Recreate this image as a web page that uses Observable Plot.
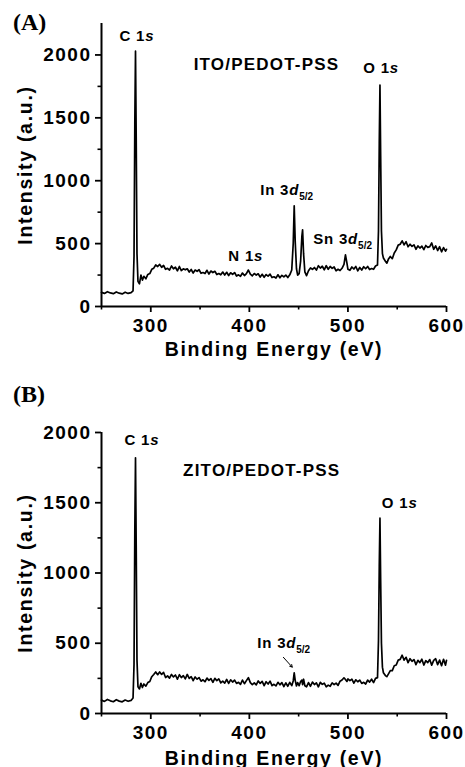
<!DOCTYPE html>
<html>
<head>
<meta charset="utf-8">
<script src="https://cdn.jsdelivr.net/npm/d3@7"></script>
<script src="https://cdn.jsdelivr.net/npm/@observablehq/plot@0.6"></script>
<style>
  html, body { margin: 0; padding: 0; background: #fff; }
  #fig { position: relative; width: 465px; height: 767px; overflow: hidden; background: #fff; }
  .panel-label { position: absolute; font-family: "Liberation Serif", "Times New Roman", serif; font-weight: bold; font-size: 24px; line-height: 24px; color: #000; }
  .plot { position: absolute; left: 0; }
</style>
</head>
<body>
<div id="fig">
  <div class="panel-label" style="left:13px; top:10px;">(A)</div>
  <div class="panel-label" style="left:13px; top:382px;">(B)</div>
  <div class="plot" id="top" style="top:0px;"></div>
  <div class="plot" id="bottom" style="top:380px;"></div>
</div>
<script>
// ---------- data ----------
const energyEV = [
  250,253,256,259,262,265,268,271,274,277,280,
  282,283,283.8,284.5,285.2,286,287,288.5,290,291.5,293,295,297,299,301,303,305,
  307,309,311,313,315,317,319,321,323,325,327,329,331,333,335,337,339,341,
  343,345,347,349,351,353,355,357,359,361,363,365,367,369,371,373,375,377,
  379,381,383,385,387,389,391,393,395,397,399,401,403,405,407,409,411,413,
  415,417,419,421,423,425,427,429,431,433,435,437,439,441,
  443,444.5,445.5,446.5,447.8,449,450.5,452,453.3,454,455,456.3,458,
  460,462,464,466,468,470,472,474,476,478,480,482,484,486,488,490,492,494,
  496,497.5,499,500,502,504,506,508,510,512,514,516,518,520,522,524,526,528,
  530,531,531.8,532.5,533.2,534,535,536,538,539.5,
  541,543,545,547,549,551,553,555,557,559,561,563,565,567,569,571,573,575,
  577,579,581,583,585,587,589,591,593,595,597,599,600
];
const itoIntensity = [
  112,104,118,108,102,116,106,100,114,104,110,
  125,400,1450,2030,1350,420,200,180,250,210,240,220,255,262,296,305,330,
  318,335,312,326,296,304,290,322,300,312,284,318,286,300,292,300,274,294,
  266,290,280,292,264,270,262,288,258,282,270,280,254,262,252,274,250,272,
  246,268,256,270,242,252,240,266,246,262,290,258,244,262,250,260,234,256,
  232,254,242,258,230,236,226,252,228,248,236,250,230,252,
  290,500,800,520,300,250,262,360,560,610,420,275,245,
  284,306,296,310,290,324,306,320,292,324,296,318,304,314,284,296,286,304,
  335,410,345,296,288,314,298,318,284,310,290,316,300,318,294,302,296,322,
  330,600,1300,1760,1200,600,420,385,360,345,
  375,398,380,425,450,488,495,522,490,515,475,495,478,490,455,482,465,480,
  452,485,470,476,505,455,482,445,475,435,468,440,455
];
const zitoIntensity = [
  95,86,100,90,84,98,88,83,96,87,93,
  110,350,1300,1820,1200,380,190,175,215,185,210,195,220,228,262,278,296,
  276,296,278,292,256,268,252,278,260,274,244,276,256,270,246,278,250,262,
  234,260,244,256,230,240,226,252,236,248,222,250,234,246,218,230,216,242,
  214,240,224,238,214,222,208,238,212,234,255,220,206,218,204,232,214,228,
  198,226,210,230,198,208,196,222,204,220,192,218,194,222,
  198,232,290,236,196,220,198,228,238,205,244,198,190,
  220,194,224,206,218,190,222,208,216,190,202,194,218,206,216,200,230,238,
  254,242,228,246,234,244,216,240,226,238,214,222,210,238,224,244,220,250,
  255,520,1050,1390,950,500,330,290,270,262,
  280,305,305,340,345,380,385,415,380,400,362,390,372,384,348,378,362,386,
  345,376,362,384,344,378,390,348,380,340,386,344,378
];

// axis ticks
const xMajorTicks = [300, 400, 500, 600];
const xMinorTicks = [250, 350, 450, 550];
const yMajorTicks = [0, 500, 1000, 1500, 2000];
const yMinorTicks = [250, 750, 1250, 1750];

// peak labels ({..} = italic, _.. = subscript)
const topPeakText = ["C 1{s}", "O 1{s}", "In 3{d}_5/2", "N 1{s}", "Sn 3{d}_5/2"];
const topPeakEV = [268.2, 515.5, 411, 378.7, 464.8];
const topPeakY = [2153, 1898, 925, 399, 534];
const topSample = ["ITO/PEDOT-PSS"];
const topSampleEV = [343.5];
const topSampleY = [1922];

const bottomPeakText = ["C 1{s}", "O 1{s}", "In 3{d}_5/2"];
const bottomPeakEV = [273.3, 534.4, 408];
const bottomPeakY = [1942, 1500, 498];
const bottomSample = ["ZITO/PEDOT-PSS"];
const bottomSampleEV = [332.8];
const bottomSampleY = [1728];
const bottomArrowFrom = [434.5, 400];
const bottomArrowTo = [443.5, 330];

// ---------- drawing ----------
const FONT = "'Liberation Sans', Arial, Helvetica, sans-serif";
const fmt = d3.format("d");

function makePanel(intensity, yMax, marginTop, marginBottom, height, xLabelOffset, peaks, sample, arrow) {
  const n = Math.min(energyEV.length, intensity.length);
  const data = [];
  for (let i = 0; i < n; i++) data.push({e: energyEV[i], v: intensity[i]});
  const peakData = peaks.text.map((t, i) => ({t, e: peaks.ev[i], v: peaks.y[i]}));
  const sampleData = sample.text.map((t, i) => ({t, e: sample.ev[i], v: sample.y[i]}));
  const marks = [
    Plot.axisX(xMajorTicks, {tickSize: 6, tickPadding: 6, strokeWidth: 1.8, tickFormat: fmt, label: "Binding Energy (eV)", labelAnchor: "center", labelOffset: xLabelOffset, labelArrow: "none"}),
    Plot.axisX(xMinorTicks, {tickSize: 3.5, strokeWidth: 1.6, tickFormat: () => "", label: null}),
    Plot.axisY(yMajorTicks, {tickSize: 6, tickPadding: 4, strokeWidth: 1.8, tickFormat: fmt, label: "Intensity (a.u.)", labelAnchor: "center", labelOffset: 83, labelArrow: "none"}),
    Plot.axisY(yMinorTicks, {tickSize: 3.5, strokeWidth: 1.6, tickFormat: () => "", label: null}),
    Plot.ruleX([250], {strokeWidth: 2}),
    Plot.ruleY([0], {strokeWidth: 2}),
    Plot.line(data, {x: "e", y: "v", stroke: "black", strokeWidth: 1.7}),
    Plot.text(peakData, {x: "e", y: "v", text: "t", textAnchor: "start", lineAnchor: "middle", fontSize: 15, fill: "black"}),
    Plot.text(sampleData, {x: "e", y: "v", text: "t", textAnchor: "start", lineAnchor: "middle", fontSize: 17, fill: "black"})
  ];
  if (arrow) {
    marks.push(Plot.arrow([{x1: arrow[0][0], y1: arrow[0][1], x2: arrow[1][0], y2: arrow[1][1]}],
      {x1: "x1", y1: "y1", x2: "x2", y2: "y2", stroke: "black", strokeWidth: 1, headLength: 4, inset: 0}));
  }
  const svg = Plot.plot({
    width: 465,
    height,
    marginLeft: 101,
    marginRight: 19,
    marginTop,
    marginBottom,
    x: {domain: [250, 600], label: "Binding Energy (eV)", labelArrow: "none"},
    y: {domain: [0, yMax], label: "Intensity (a.u.)", labelArrow: "none"},
    style: {fontFamily: FONT, fontSize: "19px", fontWeight: "bold", color: "black", background: "transparent", overflow: "visible", letterSpacing: "1.5px"},
    marks
  });
  // rich text: italic and subscript; strip any label arrows
  svg.querySelectorAll("text").forEach(el => {
    const s0 = el.textContent;
    if (/[↑→]/.test(s0)) {
      el.textContent = s0.replace(/\s*[↑→]\s*/g, "");
    }
    const s = el.textContent;
    if (s === "Binding Energy (eV)" || s === "Intensity (a.u.)") {
      el.setAttribute("letter-spacing", "1.7px");
      el.setAttribute("font-size", "19.5px");
      return;
    }
    if (!/[{_]/.test(s)) return;
    const parts = [];
    const re = /\{([^}]*)\}|_(\S+)|([^{_]+)/g;
    let m;
    while ((m = re.exec(s))) {
      if (m[1] != null) parts.push({t: m[1], kind: "it"});
      else if (m[2] != null) parts.push({t: m[2], kind: "sub"});
      else parts.push({t: m[3], kind: "n"});
    }
    while (el.firstChild) el.removeChild(el.firstChild);
    el.setAttribute("letter-spacing", "0.8px");
    for (const p of parts) {
      const ts = document.createElementNS("http://www.w3.org/2000/svg", "tspan");
      ts.textContent = p.t;
      if (p.kind === "it") ts.setAttribute("font-style", "italic");
      if (p.kind === "sub") {
        ts.setAttribute("font-size", "10px");
        ts.setAttribute("dy", "5");
        ts.setAttribute("letter-spacing", "0px");
      }
      el.appendChild(ts);
    }
  });
  svg.querySelectorAll("text").forEach(el => {
    if (el.textContent === "ITO/PEDOT-PSS" || el.textContent === "ZITO/PEDOT-PSS") el.setAttribute("letter-spacing", "1.2px");
  });
  return svg;
}

document.getElementById("top").appendChild(makePanel(
  itoIntensity, 2250, 23, 59, 365, 49,
  {text: topPeakText, ev: topPeakEV, y: topPeakY},
  {text: topSample, ev: topSampleEV, y: topSampleY},
  null));

document.getElementById("bottom").appendChild(makePanel(
  zitoIntensity, 2000, 52, 54, 387, 51,
  {text: bottomPeakText, ev: bottomPeakEV, y: bottomPeakY},
  {text: bottomSample, ev: bottomSampleEV, y: bottomSampleY},
  [bottomArrowFrom, bottomArrowTo]));
</script>
</body>
</html>
